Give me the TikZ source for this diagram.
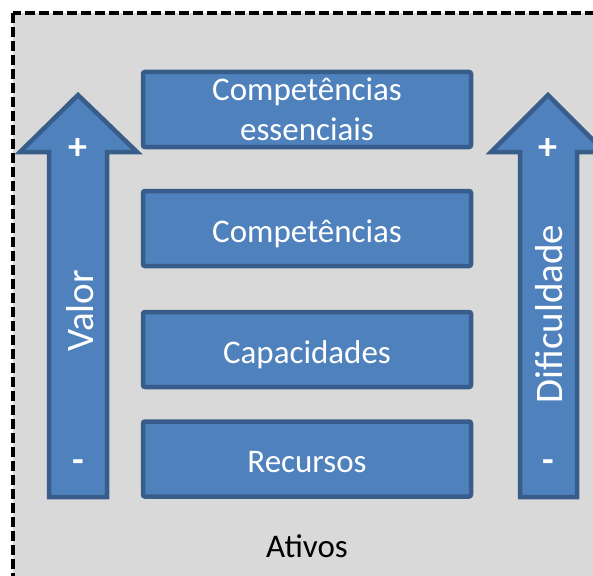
\documentclass[tikz,border=0pt]{standalone}
\usepackage{fontspec}
\setmainfont{Carlito}
\definecolor{bgray}{HTML}{D9D9D9}
\definecolor{boxfill}{HTML}{4F81BD}
\definecolor{boxline}{HTML}{385D8A}
\begin{document}
\begin{tikzpicture}[x=1pt,y=-1pt,
  box/.style={draw=boxline, fill=boxfill, line width=4.5pt, rounded corners=2pt,
    minimum width=328pt, minimum height=75pt, inner sep=0pt, text=white,
    font=\fontsize{33}{40}\selectfont, align=center},
  oneline/.style={text height=28pt, text depth=1pt},
  arrowshape/.style={draw=boxline, fill=boxfill, line width=4.5pt, line join=miter},
  arrowlabel/.style={text=white, font=\fontsize{39}{44}\selectfont, rotate=90, inner sep=0pt},
  sign/.style={text=white, font=\bfseries\fontsize{38}{40}\selectfont, inner sep=0pt},
  frame/.style={draw=black, line width=3.5pt, dash pattern=on 10pt off 4pt, fill=bgray}]
\useasboundingbox (0,0) rectangle (593,575);
\clip (0,0) rectangle (593,575);
\path[frame] (13,13) rectangle (620,600);
% arrows
\path[arrowshape] (49,497) -- (49,152) -- (20,152) -- (78,95) -- (137,152) -- (107,152) -- (107,497) -- cycle;
\path[arrowshape] (520,497) -- (520,152) -- (491,152) -- (548,95) -- (605,152) -- (577,152) -- (577,497) -- cycle;
\node[arrowlabel] (valor) at (80,311) {Valor};
\node[arrowlabel] (dif) at (549,314) {Dificuldade};
\node[sign] (p1) at (78,148.5) {+};
\node[sign] (p2) at (548,148.5) {+};
\node[sign] (m1) at (78,466) {-};
\node[sign] (m2) at (548,466) {-};
% boxes
\node[box] (ce) at (307,109.5) {Competências\\essenciais};
\node[box, oneline] (comp) at (307,228.5) {Competências};
\node[box, oneline] (cap) at (307,349.5) {Capacidades};
\node[box, oneline] (rec) at (307,459) {Recursos};
\node[text=black, font=\fontsize{33}{40}\selectfont, inner sep=0pt] (ativos) at (307,546) {Ativos};
\end{tikzpicture}
\end{document}
